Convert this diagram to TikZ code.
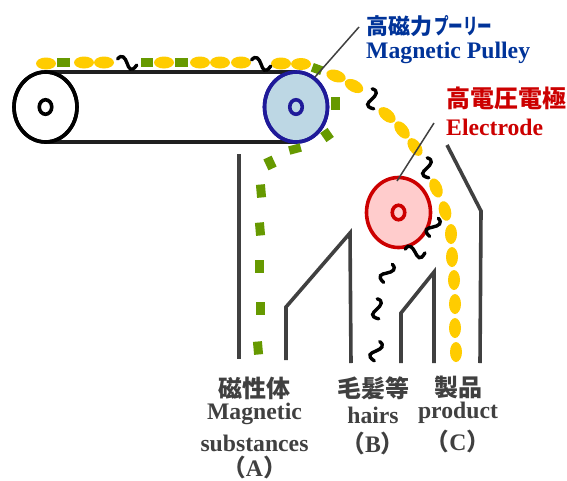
\documentclass[tikz,border=0pt]{standalone}
\usepackage{fontspec}
\setmainfont{Liberation Serif}
\newfontfamily\cjk{Noto Sans CJK JP}
\usetikzlibrary{shapes.geometric}
\definecolor{beadyellow}{HTML}{FFCC00}
\definecolor{beadgreen}{HTML}{669900}
\definecolor{chutegrey}{HTML}{404040}
\definecolor{pulleyblue}{HTML}{1F1A99}
\definecolor{pulleyfill}{HTML}{BDD7E4}
\definecolor{labelblue}{HTML}{003399}
\definecolor{labelred}{HTML}{CC0000}
\definecolor{electrodefill}{HTML}{FFCCCC}
\tikzset{
  x=1pt,y=-1pt,
  roller/.style={ellipse,draw,line width=3.6pt,minimum width=63pt,minimum height=70pt,inner sep=0pt,outer sep=0pt},
  hub/.style={ellipse,draw,line width=3.6pt,fill=white,minimum width=12.5pt,minimum height=14.5pt,inner sep=0pt,outer sep=0pt},
  belt/.style={line width=3.6pt,draw=black!88!white},
  chute/.style={line width=3.6pt,draw=chutegrey,line join=miter},
  leader/.style={line width=1.5pt,draw=chutegrey},
  yb/.style={ellipse,fill=beadyellow,minimum width=20pt,minimum height=12pt,inner sep=0pt},
  gb/.style={rectangle,fill=beadgreen,minimum width=13pt,minimum height=9pt,inner sep=0pt},
  hairline/.style={line width=3.4pt,draw=black,line cap=round},
  jp/.style={font=\cjk\bfseries\fontsize{24}{24}\selectfont,inner sep=0pt},
  en/.style={font=\bfseries\fontsize{23.7}{24}\selectfont,inner sep=0pt},
}
\newcommand{\hairbit}[3]{\draw[hairline,shift={(#1,#2)},rotate=#3]
  (-10,-2) .. controls (-7,-8) and (-3,-5) .. (0,0) .. controls (3,5) and (6,9) .. (10,0);}
\begin{document}
\begin{tikzpicture}
\useasboundingbox (0,0) rectangle (567,480);
% chutes
\draw[chute] (239,154) -- (239,359);
\draw[chute] (286,360) -- (286,307) -- (350,233) -- (351,363);
\draw[chute] (401,363) -- (401,313) -- (434,272) -- (434,363);
\draw[chute] (480,363) -- (481,211) -- (447,145);
% rollers
\node[roller,fill=white] (idler) at (45.5,107) {};
\node[roller,draw=pulleyblue,fill=pulleyfill] (pulley) at (296,107) {};
\draw[belt] (idler.north) -- (pulley.north);
\draw[belt] (idler.south) -- (pulley.south);
\node[roller,fill=none] at (idler) {};
\node[roller,draw=pulleyblue] at (pulley) {};
\node[hub] (idlerhub) at (idler) {};
\node[hub,draw=pulleyblue,fill=pulleyfill] (pulleyhub) at (pulley) {};
\node[roller,draw=labelred,fill=electrodefill,minimum width=64pt] (electrode) at (398.5,212.5) {};
\node[hub,draw=labelred,fill=electrodefill] (electrodehub) at (electrode) {};
% yellow beads
\foreach \x/\y in {46/63.5,84/62.5,104/62.5,164/62.5,200/62.5,220/62.5,241/62.5,281/63.5,301/64}
  \node[yb] at (\x,\y) {};
\foreach \x/\y/\r in {336/76/-18,354/86/-28,387/115/-40,402/130/-52,415/147/-55,436/188/-68,445/211/-75}
  \node[yb,rotate=\r] at (\x,\y) {};
\foreach \x/\y in {451/234,452/257,454/280,455/304,455/328,456/352}
  \node[yb,minimum width=12pt,minimum height=20pt] at (\x,\y) {};
% green beads
\foreach \x/\y/\r/\w/\h in {63/62.5/0/13/9,147/62.5/0/12/9,181/62.5/0/13/9,317/69/-20/10/9,335/103/0/9/13,327/135/35/9/11,295/149/15/12/8.5,270/163/-65/12/9,261/191/5/9/13,260/229/5/9/13,259/266/0/9/13,260/308/0/9/13,258/348/5/9/13}
  \node[gb,rotate=\r,minimum width=\w pt,minimum height=\h pt] at (\x,\y) {};
% hairs
\hairbit{127}{63}{-12}
\hairbit{261}{64}{-12}
\hairbit{372}{99}{-80}
\hairbit{427}{168}{-80}
\hairbit{433}{227}{-110}
\hairbit{415}{252}{-5}
\hairbit{387}{273}{-110}
\hairbit{377}{309}{-80}
\hairbit{376}{351}{-100}
% labels
\node[jp,font=\cjk\bfseries\fontsize{22}{22}\selectfont,text=labelblue,anchor=west] (pulleyjp) at (366,26) {高磁力\hspace{2pt}\scalebox{.66}[1]{プーリー}};
\node[en,text=labelblue,anchor=west] (pulleyen) at (366,53) {Magnetic Pulley};
\node[jp,text=labelred,anchor=west] (electrodejp) at (446,98) {高電圧電極};
\node[en,text=labelred,anchor=west] (electrodeen) at (446,127) {Electrode};
\node[jp,text=chutegrey] (ajp) at (254.5,388) {磁性体};
\node[en,text=chutegrey] (aen1) at (254.5,414) {Magnetic};
\node[en,text=chutegrey] (aen2) at (254.5,443) {substances};
\node[en,text=chutegrey] (atag) at (254.5,467) {{\cjk（}A{\cjk）}};
\node[jp,text=chutegrey] (bjp) at (373.5,388) {毛髪等};
\node[en,text=chutegrey] (ben) at (373,415) {hairs};
\node[en,text=chutegrey] (btag) at (373,443) {{\cjk（}B{\cjk）}};
\node[jp,text=chutegrey] (cjp) at (458,387) {製品};
\node[en,text=chutegrey] (cen) at (458,413) {product};
\node[en,text=chutegrey] (ctag) at (458,441) {{\cjk（}C{\cjk）}};
% leaders
\coordinate (pulleytip) at (359,27);
\coordinate (pulleyend) at (315,77);
\coordinate (electrodetip) at (434,123);
\coordinate (electrodeend) at (397,181);
\draw[leader] (pulleytip) -- (pulleyend);
\draw[leader] (electrodetip) -- (electrodeend);
\end{tikzpicture}
\end{document}
